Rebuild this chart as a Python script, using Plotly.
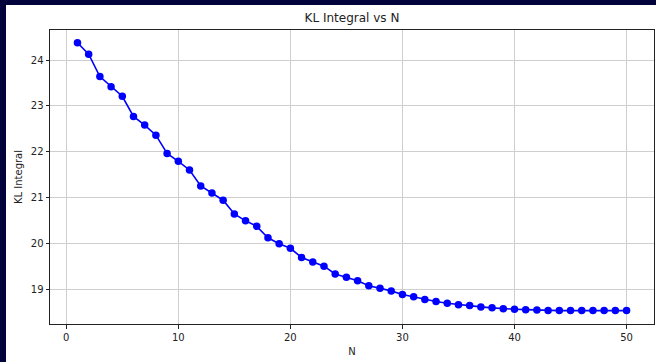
import plotly.graph_objects as go

N = list(range(1, 51))
kl_integral = [
    24.38, 24.13, 23.64, 23.42, 23.21, 22.77, 22.58, 22.36, 21.96, 21.79,
    21.60, 21.25, 21.10, 20.94, 20.64, 20.49, 20.37, 20.12, 19.99, 19.89,
    19.69, 19.59, 19.50, 19.33, 19.26, 19.18, 19.07, 19.02, 18.96, 18.88,
    18.83, 18.77, 18.73, 18.69, 18.66, 18.64, 18.61, 18.59, 18.57, 18.56,
    18.55, 18.54, 18.53, 18.53, 18.53, 18.53, 18.53, 18.53, 18.53, 18.53,
]
x_ticks = [0, 10, 20, 30, 40, 50]
y_ticks = [19, 20, 21, 22, 23, 24]

W, H = 656, 362
ml, mr, mt, mb = 50, 2, 30, 38
pw, ph = W - ml - mr, H - mt - mb
font = "DejaVu Sans, Liberation Sans, sans-serif"
navy = "#03033b"

fig = go.Figure()
fig.add_trace(go.Scatter(
    x=N, y=kl_integral, mode="lines+markers",
    line=dict(color="#0000ff", width=1.6),
    marker=dict(color="#0000ff", size=7.5),
    showlegend=False,
))

# navy page border strips (left 6px, top 5px)
fig.add_shape(type="rect", xref="paper", yref="paper",
              x0=-(ml + 20) / pw, x1=(6 - ml) / pw,
              y0=-(mb + 20) / ph, y1=(ph + mt + 20) / ph,
              fillcolor=navy, line=dict(width=0), layer="below")
fig.add_shape(type="rect", xref="paper", yref="paper",
              x0=-(ml + 20) / pw, x1=(W + 20 - ml) / pw,
              y0=(ph + mt - 5) / ph, y1=(ph + mt + 20) / ph,
              fillcolor=navy, line=dict(width=0), layer="below")

fig.update_layout(
    width=W, height=H,
    margin=dict(l=ml, r=mr, t=mt, b=mb),
    paper_bgcolor="white",
    plot_bgcolor="white",
    font=dict(family=font, size=10, color="#222"),
    title=dict(text="KL Integral vs N", x=(ml + pw / 2) / W, xanchor="center",
               y=1 - 18 / H, yanchor="middle",
               font=dict(size=12, color="#222", family=font)),
    xaxis=dict(
        range=[-1.45, 52.45], tickvals=x_ticks, ticks="outside", ticklen=3.5,
        tickcolor="#222", showline=True, mirror=True, linecolor="#222", linewidth=1,
        showgrid=True, gridcolor="#cfcfcf", gridwidth=1, zeroline=False,
        title=dict(text="N", standoff=6, font=dict(size=10)),
        tickfont=dict(size=10),
    ),
    yaxis=dict(
        range=[18.237, 24.657], tickvals=y_ticks, ticks="outside", ticklen=3.5,
        tickcolor="#222", showline=True, mirror=True, linecolor="#222", linewidth=1,
        showgrid=True, gridcolor="#cfcfcf", gridwidth=1, zeroline=False,
        title=dict(text="KL Integral", standoff=6, font=dict(size=10)),
        tickfont=dict(size=10),
    ),
)

fig.write_html("out.html")
